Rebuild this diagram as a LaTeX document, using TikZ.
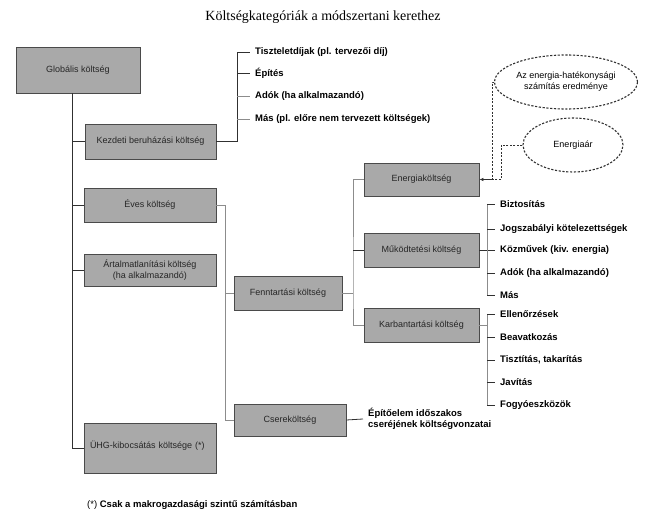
\documentclass[tikz,border=0pt]{standalone}
\usepackage{fontspec}
\setmainfont{Liberation Sans}
\newfontfamily\titlefont{Liberation Serif}
\usetikzlibrary{shapes.geometric,arrows.meta,calc}
\definecolor{boxfill}{HTML}{A9A9A9}
\definecolor{boxline}{HTML}{4A4A4A}
\definecolor{darkln}{HTML}{303030}
\definecolor{grayln}{HTML}{8C8C8C}
\tikzset{
  box/.style={draw=boxline, fill=boxfill, line width=0.9pt, inner sep=2pt, align=center, text=black!85, font=\fontsize{9}{11}\selectfont},
  item/.style={anchor=west, inner xsep=5pt, inner ysep=1pt, font=\fontsize{9.5}{11}\bfseries\selectfont},
  dk/.style={draw=darkln, line width=0.8pt},
  gr/.style={draw=grayln, line width=0.9pt},
  cloud/.style={ellipse, draw=darkln, dash pattern=on 2.2pt off 1.6pt, line width=1.1pt, align=center, inner sep=1pt, font=\fontsize{9}{11}\selectfont},
  dsh/.style={draw=darkln, dash pattern=on 2pt off 1.5pt, line width=0.6pt}
}
\begin{document}
\begin{tikzpicture}[x=1pt,y=-1pt]
\useasboundingbox (0,0) rectangle (657,521);
% title
\node (title) at (323,17) {\titlefont\fontsize{14}{16}\selectfont Költségkategóriák a módszertani kerethez};
% boxes
\node[box, minimum width=124pt, minimum height=46pt] (glob) at (78,70) {Globális költség};
\node[box, minimum width=131pt, minimum height=35pt] (kezd) at (150.5,141.5) {Kezdeti beruházási költség};
\node[box, minimum width=132pt, minimum height=34pt] (eves) at (150,205) {Éves költség};
\node[box, minimum width=132pt, minimum height=32pt] (artal) at (150,270) {Ártalmatlanítási költség\\(ha alkalmazandó)};
\node[box, minimum width=132pt, minimum height=50pt, text width=120pt, align=left, inner xsep=6pt] (uhg) at (150,448) {\raisebox{6pt}{ÜHG-kibocsátás költsége (*)}};
\node[box, minimum width=108pt, minimum height=34pt] (fenn) at (288,293) {Fenntartási költség};
\node[box, minimum width=112pt, minimum height=32pt] (csere) at (290,420) {Csereköltség};
\node[box, minimum width=115pt, minimum height=33pt] (energ) at (421.5,179.5) {Energiaköltség};
\node[box, minimum width=115pt, minimum height=34pt] (mukod) at (421.5,250) {Működtetési költség};
\node[box, minimum width=115pt, minimum height=34pt] (karb) at (421.5,325) {Karbantartási költség};
% ellipses
\node[cloud, minimum width=118pt, minimum height=54pt] (e1) at (566,82) {Az energia-hatékonysági\\számítás eredménye};
\node[cloud, minimum width=100pt, minimum height=54pt] (e2) at (573,145) {Energiaár};
% kezdeti items
\node[item] (k1) at (250,52) {Tiszteletdíjak (pl. tervezői díj)};
\node[item] (k2) at (250,73) {Építés};
\node[item] (k3) at (250,96) {Adók (ha alkalmazandó)};
\node[item] (k4) at (250,119) {Más (pl. előre nem tervezett költségek)};
% mukodtetesi items
\node[item] (m1) at (495,204) {Biztosítás};
\node[item] (m2) at (495,229) {Jogszabályi kötelezettségek};
\node[item] (m3) at (495,250) {Közművek (kiv. energia)};
\node[item] (m4) at (495,273) {Adók (ha alkalmazandó)};
\node[item] (m5) at (495,295) {Más};
% karbantartasi items
\node[item] (c1) at (495,314) {Ellenőrzések};
\node[item] (c2) at (495,337) {Beavatkozás};
\node[item] (c3) at (495,360) {Tisztítás, takarítás};
\node[item] (c4) at (495,382) {Javítás};
\node[item] (c5) at (495,405) {Fogyóeszközök};
% csere label
\node[item, align=left] (cl) at (363,419) {Építőelem időszakos\\cseréjének költségvonzatai};
% footnote
\node[anchor=west, inner sep=0pt, font=\fontsize{9.5}{11}\selectfont] (foot) at (87,505) {(*) \textbf{Csak a makrogazdasági szintű számításban}};
% coordinates
\coordinate (trunk) at (72,93);
\coordinate (kx) at (237,52);
\coordinate (ex) at (225,205);
\coordinate (fx) at (353,293);
\coordinate (mx) at (487,250);
\coordinate (d1) at (492,179.5);
\coordinate (d2) at (501,179.5);
% trunk
\draw[dk] (trunk) |- (uhg.west);
\draw[dk] (trunk |- kezd.west) -- (kezd.west);
\draw[dk] (trunk |- eves.west) -- (eves.west);
\draw[dk] (trunk |- artal.west) -- (artal.west);
% kezdeti list
\draw[dk] (kezd.east) -| (kx) -- (k1.west);
\draw[dk] (kx |- k2.west) -- (k2.west);
\draw[gr] (kx |- k3.west) -- (k3.west);
\draw[gr] (kx |- k4.west) -- (k4.west);
% eves -> fenntartasi / csere
\draw[gr] (eves.east) -| (ex) |- (csere.west);
\draw[gr] (ex |- fenn.west) -- (fenn.west);
% fenntartasi -> sub
\draw[gr] (fenn.east) -- (fx);
\draw[gr] (energ.west) -| (fx) |- (karb.west);
\draw[dk] (fx |- mukod.west) -- (mukod.west);
% mukodtetesi list
\draw[dk] (mukod.east) -- (m3.west);
\draw[gr] (mx |- m1.west) -- (mx |- m5.west);
\draw[dk] (mx |- m1.west) -- (m1.west);
\draw[dk] (mx |- m2.west) -- (m2.west);
\draw[dk] (mx |- m4.west) -- (m4.west);
\draw[dk] (mx |- m5.west) -- (m5.west);
% karbantartasi list
\draw[gr] (mx |- c1.west) -- (mx |- c5.west);
\draw[gr] (karb.east) -- (mx |- karb.east);
\draw[dk] (mx |- c1.west) -- (c1.west);
\draw[dk] (mx |- c2.west) -- (c2.west);
\draw[dk] (mx |- c3.west) -- (c3.west);
\draw[dk] (mx |- c4.west) -- (c4.west);
\draw[dk] (mx |- c5.west) -- (c5.west);
% csere label
\draw[dk] (csere.east) -- (cl.west);
% dashed
\draw[dsh] (e1.west) -| (d1);
\draw[dsh, -{Latex[length=4pt,width=3.5pt]}, solid] (d1) -- (energ.east);
\draw[dsh] (e2.west) -| (d2) -- (d1);
\end{tikzpicture}
\end{document}
